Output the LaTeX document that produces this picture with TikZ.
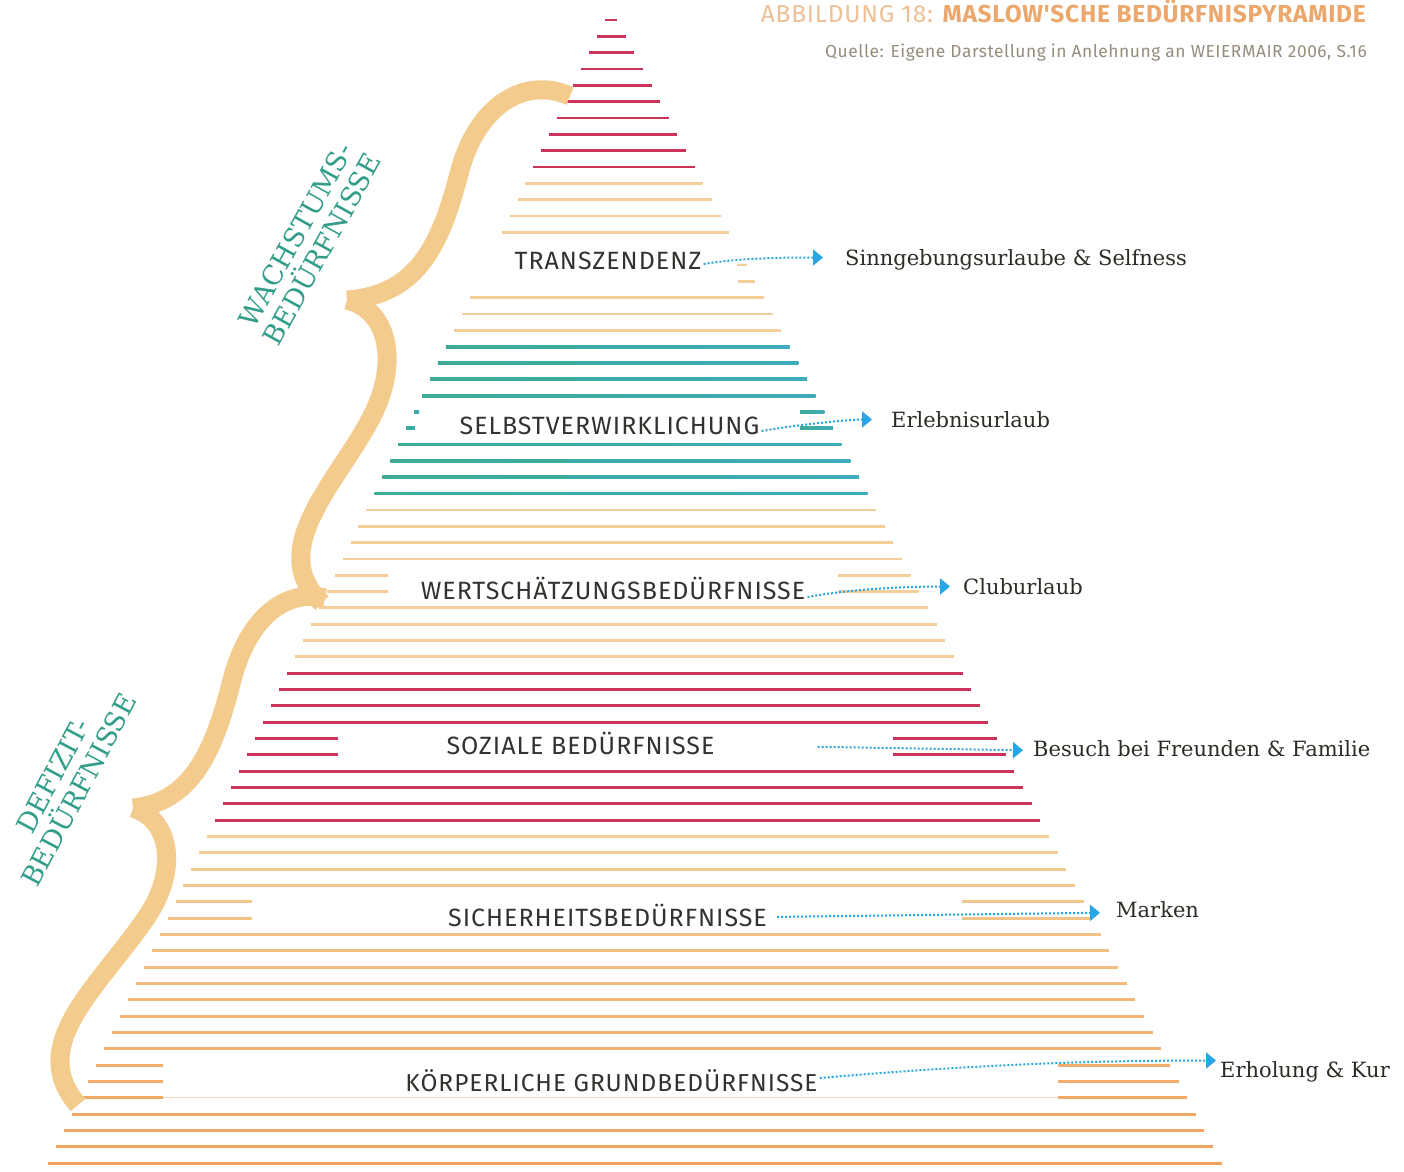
\documentclass[tikz,border=0pt]{standalone}
\usepackage{fontspec}
\setmainfont{DejaVu Serif}
\newfontfamily\sansfam{Fira Sans}
\newfontfamily\sanswide[LetterSpace=4]{Fira Sans}
\newfontfamily\sanstitle[LetterSpace=3]{Fira Sans}
\newfontfamily\seriffam{DejaVu Serif}
\usetikzlibrary{arrows.meta}

\definecolor{rowred}{RGB}{203,52,88}
\definecolor{rowtan}{RGB}{243,206,152}
\definecolor{roworange}{RGB}{240,162,92}
\definecolor{tealA}{RGB}{62,170,150}
\definecolor{tealM}{RGB}{52,140,200}
\definecolor{tealB}{RGB}{62,172,185}
\definecolor{bracetan}{RGB}{243,203,140}
\definecolor{labelgray}{RGB}{50,50,46}
\definecolor{notedark}{RGB}{45,44,36}
\definecolor{arrowblue}{RGB}{40,165,228}
\definecolor{groupgreen}{RGB}{50,158,138}
\definecolor{titlelight}{RGB}{238,192,150}
\definecolor{titledark}{RGB}{236,168,108}
\definecolor{srcgray}{RGB}{150,142,125}

% one horizontal bar of the pyramid: row index, style
\newcommand\pyrrow[2]{\path[#2] ({605-7.953*#1},{20+16.33*#1-1.4}) rectangle ({617+8.639*#1},{20+16.33*#1+1.4});}
% left stub: row index, right end x, style
\newcommand\pyrleft[3]{\path[#3] ({605-7.953*#1},{20+16.33*#1-1.4}) rectangle (#2,{20+16.33*#1+1.4});}
% right stub: row index, left end x, style
\newcommand\pyrright[3]{\path[#3] (#2,{20+16.33*#1-1.4}) rectangle ({617+8.639*#1},{20+16.33*#1+1.4});}

\begin{document}
\begin{tikzpicture}[x=1pt,y=-1pt,
  redrow/.style={fill=rowred},
  tanrow/.style={fill=rowtan},
  tealrow/.style={left color=tealA, middle color=tealM, right color=tealB},
  bracepath/.style={draw=bracetan, line width=19pt, line cap=butt},
  pyrlabel/.style={anchor=base, inner sep=2pt, text height=18pt, text depth=0pt,
    text=labelgray, font=\sanswide\fontsize{25}{29}\selectfont},
  reslabel/.style={anchor=base west, inner sep=0pt, text height=15pt, text depth=4pt,
    text=notedark, font=\seriffam\fontsize{21}{25}\selectfont},
  grouplabel/.style={align=center, text=groupgreen,
    font=\seriffam\fontsize{27}{30}\selectfont},
  dotarrow/.style={draw=arrowblue, line width=2pt, dash pattern=on 2pt off 2pt,
    -{Triangle[length=10pt,width=16pt,fill=arrowblue]}}
]
\useasboundingbox (0,0) rectangle (1404,1171);
\fill[white] (0,0) rectangle (1404,1171);

% ---- pyramid bars ----
\foreach \k in {0,...,9} {\pyrrow{\k}{redrow}}
\foreach \k in {10,...,13} {\pyrrow{\k}{tanrow}}
\pyrright{15}{737}{tanrow}
\pyrright{16}{738}{tanrow}
\foreach \k in {17,18,19} {\pyrrow{\k}{tanrow}}
\foreach \k in {20,...,23} {\pyrrow{\k}{tealrow}}
\pyrleft{24}{419}{tealrow}\pyrright{24}{800}{tealrow}
\pyrleft{25}{415}{tealrow}\pyrright{25}{800}{tealrow}
\foreach \k in {26,...,29} {\pyrrow{\k}{tealrow}}
\foreach \k in {30,...,33} {\pyrrow{\k}{tanrow}}
\pyrleft{34}{388}{tanrow}\pyrright{34}{838}{tanrow}
\pyrleft{35}{388}{tanrow}\pyrright{35}{838}{tanrow}
\foreach \k in {36,...,39} {\pyrrow{\k}{tanrow}}
\foreach \k in {40,...,43} {\pyrrow{\k}{redrow}}
\pyrleft{44}{338}{redrow}\pyrright{44}{893}{redrow}
\pyrleft{45}{338}{redrow}\pyrright{45}{893}{redrow}
\foreach \k in {46,...,49} {\pyrrow{\k}{redrow}}
% lower bars shade from tan to orange
\foreach \k in {50,...,53,56,57,...,63,67,68,69,70} {
  \pgfmathtruncatemacro\p{max(0,100-5*(\k-50))}
  \pyrrow{\k}{fill=rowtan!\p!roworange}}
\pyrleft{54}{252}{fill=rowtan!80!roworange}\pyrright{54}{962}{fill=rowtan!80!roworange}
\pyrleft{55}{252}{fill=rowtan!75!roworange}\pyrright{55}{962}{fill=rowtan!75!roworange}
\pyrleft{64}{163}{fill=rowtan!30!roworange}\pyrright{64}{1058}{fill=rowtan!30!roworange}
\pyrleft{65}{163}{fill=rowtan!25!roworange}\pyrright{65}{1058}{fill=rowtan!25!roworange}
\pyrleft{66}{163}{fill=rowtan!20!roworange}\pyrright{66}{1058}{fill=rowtan!20!roworange}
\path[fill=roworange!45] (163,{20+16.33*66-0.6}) rectangle (1058,{20+16.33*66+0.6});

% ---- braces ----
\draw[bracepath] (570,96) .. controls (525,76) and (478,105) .. (460,170)
                 .. controls (442,240) and (420,295) .. (347,300);
\draw[bracepath] (347,300) .. controls (388,310) and (398,360) .. (375,410)
                 .. controls (345,475) and (262,548) .. (322,603);
\draw[bracepath] (325,598) .. controls (280,588) and (246,625) .. (232,680)
                 .. controls (216,742) and (196,802) .. (133,808);
\draw[bracepath] (133,808) .. controls (172,820) and (178,872) .. (146,918)
                 .. controls (98,988) and (26,1045) .. (78,1105);

% ---- group labels ----
\node[grouplabel, rotate=61] (growth) at (309,242) {WACHSTUMS-\\BEDÜRFNISSE};
\node[grouplabel, rotate=62] (deficit) at (66,783) {DEFIZIT-\\BEDÜRFNISSE};

% ---- level labels ----
\node[pyrlabel] (lv1) at (608,269) {TRANSZENDENZ};
\node[pyrlabel] (lv2) at (609.5,434) {SELBSTVERWIRKLICHUNG};
\node[pyrlabel] (lv3) at (613,599) {WERTSCHÄTZUNGSBEDÜRFNISSE};
\node[pyrlabel] (lv4) at (580.5,754) {SOZIALE BEDÜRFNISSE};
\node[pyrlabel] (lv5) at (607.5,926) {SICHERHEITSBEDÜRFNISSE};
\node[pyrlabel, font=\sanswide\fontsize{24.5}{29}\selectfont] (lv6) at (611.5,1091) {KÖRPERLICHE GRUNDBEDÜRFNISSE};

% ---- travel types ----
\node[reslabel] (tr1) at (845,265) {Sinngebungsurlaube \& Selfness};
\node[reslabel] (tr2) at (891,427) {Erlebnisurlaub};
\node[reslabel] (tr3) at (963,594) {Cluburlaub};
\node[reslabel] (tr4) at (1033,756) {Besuch bei Freunden \& Familie};
\node[reslabel] (tr5) at (1116,917) {Marken};
\node[reslabel] (tr6) at (1220,1077) {Erholung \& Kur};

% ---- dotted arrows ----
\draw[dotarrow, shorten >=22pt] ([yshift=-4pt]lv1.east) .. controls +(40,-7) and +(-40,0) .. ([yshift=2pt]tr1.west);
\draw[dotarrow, shorten >=19pt] ([yshift=-6pt]lv2.east) .. controls +(40,-7) and +(-40,0) .. ([yshift=2pt]tr2.west);
\draw[dotarrow, shorten >=13pt] ([yshift=-7pt]lv3.east) .. controls +(50,-9) and +(-50,0) .. ([yshift=2pt]tr3.west);
\draw[dotarrow, shorten <=101pt, shorten >=10pt] (lv4.east) -- (tr4.west);
\draw[dotarrow, shorten <=8pt, shorten >=16pt] (lv5.east) -- ([yshift=-1pt]tr5.west);
\draw[dotarrow, shorten >=4pt] ([yshift=4pt]lv6.east) .. controls +(160,-14) and +(-120,0) .. ([yshift=11pt]tr6.west);

% ---- heading ----
\node[anchor=base east, inner sep=0pt, font=\sanstitle\fontsize{24.5}{28}\selectfont] (title) at (1366,22)
  {\textcolor{titlelight}{ABBILDUNG 18:} \textcolor{titledark}{\bfseries MASLOW'SCHE BEDÜRFNISPYRAMIDE}};
\node[anchor=base east, inner sep=0pt, text=srcgray, font=\sanstitle\fontsize{17.4}{20}\selectfont] (source) at (1367,57)
  {Quelle: Eigene Darstellung in Anlehnung an WEIERMAIR 2006, S.16};
\end{tikzpicture}
\end{document}
